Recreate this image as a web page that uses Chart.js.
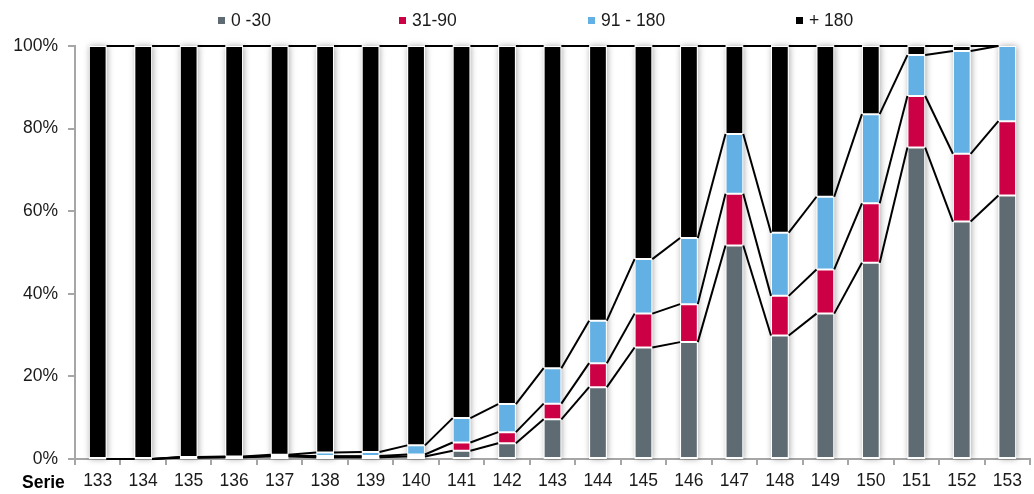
<!DOCTYPE html>
<html>
<head>
<meta charset="utf-8">
<script src="https://cdn.jsdelivr.net/npm/chart.js@4"></script>
<style>
  html, body { margin: 0; padding: 0; background: #fff; }
  #wrap { width: 1034px; height: 494px; }
</style>
</head>
<body>
<div id="wrap"><canvas id="c" width="1034" height="494"></canvas></div>
<script>
// Series (Serie) numbers along the x axis
const categories = ['133','134','135','136','137','138','139','140','141','142','143',
                    '144','145','146','147','148','149','150','151','152','153'];

// Share of each aging bucket per series, in percent
const seriesLabels = ['0 -30', '31-90', '91 - 180', '+ 180'];
const bucket0to30   = [0, 0, 0.3, 0.4, 0.6, 0.4, 0.4, 0.6, 2.0, 3.8, 9.6, 17.4, 27.0, 28.3, 51.7, 29.9, 35.2, 47.5, 75.4, 57.5, 63.8];
const bucket31to90  = [0, 0, 0.1, 0.1, 0.2, 0.3, 0.3, 0.5, 2.0, 2.7, 3.8,  5.8,  8.2,  9.2, 12.5,  9.6, 10.7, 14.4, 12.5, 16.4, 18.0];
const bucket91to180 = [0, 0, 0.1, 0.1, 0.2, 0.9, 1.0, 2.2, 5.9, 6.8, 8.6, 10.3, 13.2, 16.0, 14.5, 15.3, 17.6, 21.6,  9.9, 24.9, 18.2];
const bucketOver180 = [100, 100, 99.5, 99.4, 99.0, 98.4, 98.3, 96.7, 90.1, 86.7, 78.0, 66.5, 51.6, 46.5, 21.3, 45.2, 36.5, 16.5, 2.2, 1.2, 0];

// Y axis tick values (shown as percentages)
const yTicks = [0, 20, 40, 60, 80, 100];

const colors = ['#5f6b73', '#cc0044', '#63b0e4', '#000000'];
const FONT = "'Liberation Sans', Arial, sans-serif";

// Soft drop shadow behind each full column
const columnShadow = {
  id: 'columnShadow',
  beforeDatasetsDraw(chart) {
    const ctx = chart.ctx;
    const meta = chart.getDatasetMeta(0);
    const y = chart.scales.y;
    const top = y.getPixelForValue(100), bottom = y.getPixelForValue(0);
    ctx.save();
    ctx.shadowColor = 'rgba(0,0,0,0.35)';
    ctx.shadowBlur = 6;
    ctx.shadowOffsetX = 1;
    ctx.fillStyle = '#ffffff';
    meta.data.forEach(bar => {
      ctx.fillRect(bar.x - bar.width / 2, top, bar.width, bottom - top);
    });
    ctx.restore();
  }
};

// Series lines joining the segment tops of neighbouring columns
const seriesLines = {
  id: 'seriesLines',
  afterDatasetsDraw(chart) {
    const ctx = chart.ctx;
    ctx.save();
    ctx.strokeStyle = '#000';
    ctx.lineWidth = 2;
    chart.data.datasets.forEach((ds, d) => {
      const bars = chart.getDatasetMeta(d).data;
      for (let i = 0; i < bars.length - 1; i++) {
        const a = bars[i], b = bars[i + 1];
        ctx.beginPath();
        ctx.moveTo(a.x + a.width / 2, a.y);
        ctx.lineTo(b.x - b.width / 2, b.y);
        ctx.stroke();
      }
    });
    ctx.restore();
  }
};

// Legend row at the top and the "Serie" caption beside the x labels
const captions = {
  id: 'captions',
  afterDraw(chart) {
    const ctx = chart.ctx;
    ctx.save();
    ctx.font = '17.5px ' + FONT;
    ctx.textBaseline = 'middle';
    ctx.fillStyle = '#1a1a1a';
    const starts = [218, 399, 588, 796];
    chart.data.datasets.forEach((ds, i) => {
      ctx.fillStyle = ds.backgroundColor;
      ctx.fillRect(starts[i], 17, 7, 7);
      ctx.fillStyle = '#1a1a1a';
      ctx.fillText(ds.label, starts[i] + 13, 21);
    });
    ctx.font = 'bold 17.5px ' + FONT;
    ctx.textBaseline = 'alphabetic';
    ctx.fillStyle = '#000';
    ctx.fillText('Serie', 22, 488);
    ctx.restore();
  }
};

const values = [bucket0to30, bucket31to90, bucket91to180, bucketOver180];

new Chart(document.getElementById('c'), {
  type: 'bar',
  data: {
    labels: categories,
    datasets: seriesLabels.map((label, i) => ({
      label,
      data: values[i],
      backgroundColor: colors[i],
      borderColor: '#ffffff',
      borderWidth: 1,
      borderSkipped: false,
      categoryPercentage: 1,
      barPercentage: 0.39
    }))
  },
  options: {
    responsive: false,
    devicePixelRatio: 1,
    animation: false,
    layout: { padding: { top: 46, right: 4, left: 0, bottom: 0 } },
    plugins: {
      legend: { display: false },
      tooltip: { enabled: false }
    },
    scales: {
      x: {
        stacked: true,
        grid: { offset: true, drawOnChartArea: false, tickLength: 6, color: '#a6a6a6', lineWidth: 2 },
        border: { color: '#a6a6a6', width: 2 },
        ticks: { font: { family: FONT, size: 17.5 }, color: '#1a1a1a', padding: 6, maxRotation: 0, autoSkip: false },
        afterFit(scale) { scale.height = 35; }
      },
      y: {
        stacked: true,
        min: 0,
        max: 100,
        afterBuildTicks(scale) { scale.ticks = yTicks.map(v => ({ value: v })); },
        grid: { drawOnChartArea: false, tickLength: 7, color: '#a6a6a6', lineWidth: 2 },
        border: { color: '#a6a6a6', width: 2 },
        ticks: { font: { family: FONT, size: 17.5 }, color: '#1a1a1a', padding: 10, callback: v => v + '%' },
        afterFit(scale) { scale.width = 75; }
      }
    }
  },
  plugins: [columnShadow, seriesLines, captions]
});
</script>
</body>
</html>
